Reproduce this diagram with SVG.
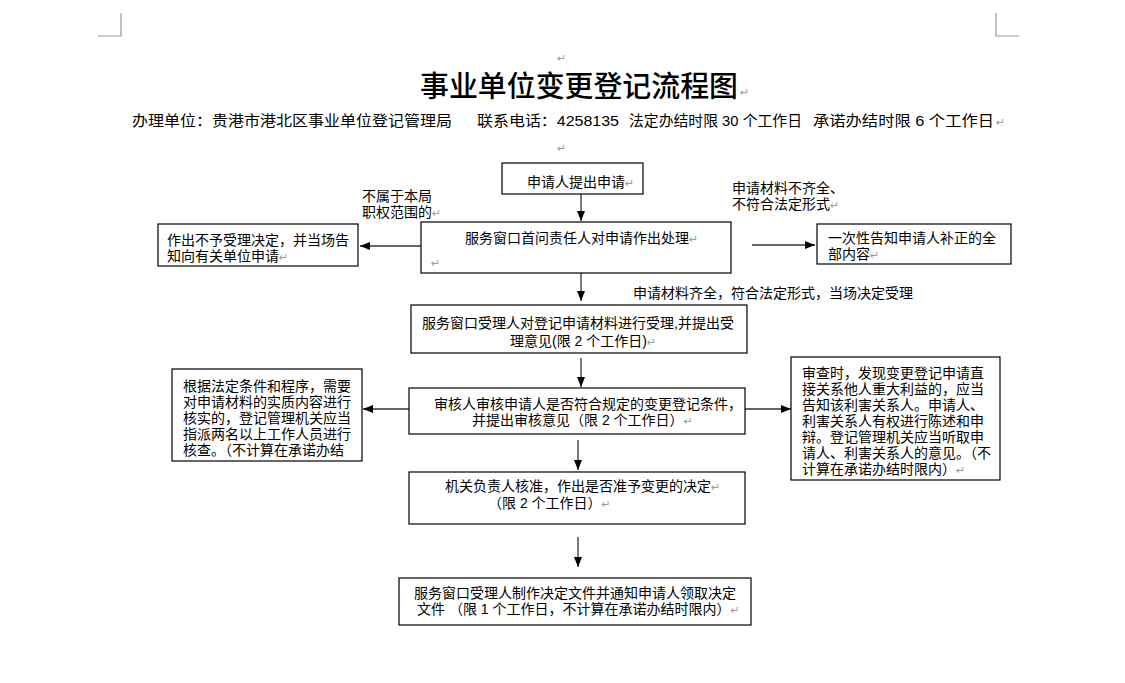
<svg xmlns="http://www.w3.org/2000/svg" width="1125" height="683" viewBox="0 0 1125 683">
<style>
text{font-family:"Liberation Sans","Noto Sans CJK SC",sans-serif;fill:#000;font-size:14px}
.t{font-family:"Noto Sans CJK SC",sans-serif;font-size:29px;font-weight:500}
.s{font-size:15px}
.pm{fill:#9a9a9a;font-size:11px;font-family:"DejaVu Sans",sans-serif}
.box{fill:#fff;stroke:#000;stroke-width:1.2}
.c line{stroke:#333;stroke-width:1.3;fill:none}
.crop{stroke:#999;stroke-width:1.2;fill:none}
</style>
<defs>
<marker id="ah" markerUnits="userSpaceOnUse" markerWidth="10" markerHeight="8" refX="10" refY="4" orient="auto">
<path d="M0,0 L10,4 L0,8 z" fill="#000"/>
</marker>
</defs>
<rect width="1125" height="683" fill="#fff"/>
<polyline class="crop" points="98,36 121,36 121,13"/>
<polyline class="crop" points="1019,36 996,36 996,13"/>
<text class="pm" x="557" y="62">↵</text>
<text class="t" x="420" y="97"><tspan textLength="318" lengthAdjust="spacingAndGlyphs">事业单位变更登记流程图</tspan><tspan class="pm" x="740" y="96">↵</tspan></text>
<text class="s" y="126"><tspan x="132" textLength="320" lengthAdjust="spacingAndGlyphs">办理单位：贵港市港北区事业单位登记管理局</tspan><tspan x="477" textLength="142" lengthAdjust="spacingAndGlyphs">联系电话：4258135</tspan><tspan x="629" textLength="173" lengthAdjust="spacingAndGlyphs">法定办结时限 30 个工作日</tspan><tspan x="813" textLength="181" lengthAdjust="spacingAndGlyphs">承诺办结时限 6 个工作日</tspan><tspan class="pm" x="996">↵</tspan></text>
<text class="pm" x="557" y="152">↵</text>

<g id="connectors" class="c">
<line x1="581" y1="194" x2="581" y2="221" marker-end="url(#ah)"/>
<line x1="421" y1="246" x2="360" y2="246" marker-end="url(#ah)"/>
<line x1="752" y1="245" x2="815" y2="245" marker-end="url(#ah)"/>
<line x1="581" y1="273" x2="581" y2="301" marker-end="url(#ah)"/>
<line x1="581" y1="358" x2="581" y2="387" marker-end="url(#ah)"/>
<line x1="409" y1="409" x2="363" y2="409" marker-end="url(#ah)"/>
<line x1="745" y1="409" x2="791" y2="409" marker-end="url(#ah)"/>
<line x1="578" y1="440" x2="578" y2="470" marker-end="url(#ah)"/>
<line x1="578" y1="537" x2="578" y2="567" marker-end="url(#ah)"/>
</g>

<g id="label-out">
<text><tspan x="362" y="201">不属于本局</tspan><tspan x="362" y="217">职权范围的</tspan><tspan class="pm">↵</tspan></text>
</g>
<g id="label-incomplete">
<text><tspan x="732" y="193">申请材料不齐全、</tspan><tspan x="732" y="209">不符合法定形式</tspan><tspan class="pm">↵</tspan></text>
</g>
<g id="label-accept">
<text x="633" y="298">申请材料齐全，符合法定形式，当场决定受理</text>
</g>

<g id="n1">
<rect class="box" x="502" y="163" width="141" height="31"/>
<text x="527" y="187">申请人提出申请<tspan class="pm">↵</tspan></text>
</g>
<g id="n2">
<rect class="box" x="421" y="222" width="310" height="51"/>
<text><tspan x="465" y="243">服务窗口首问责任人对申请作出处理</tspan><tspan class="pm">↵</tspan><tspan class="pm" x="431" y="267">↵</tspan></text>
</g>
<g id="n-reject">
<rect class="box" x="158" y="224" width="200" height="42"/>
<text><tspan x="167" y="245">作出不予受理决定，并当场告</tspan><tspan x="167" y="261">知向有关单位申请</tspan><tspan class="pm">↵</tspan></text>
</g>
<g id="n-notify">
<rect class="box" x="817" y="224" width="194" height="40"/>
<text><tspan x="828" y="243">一次性告知申请人补正的全</tspan><tspan x="828" y="259">部内容</tspan><tspan class="pm">↵</tspan></text>
</g>
<g id="n3">
<rect class="box" x="411" y="305" width="336" height="48"/>
<text><tspan x="422" y="328">服务窗口受理人对登记申请材料进行受理,并提出受</tspan><tspan x="510" y="346">理意见(限 2 个工作日)</tspan><tspan class="pm">↵</tspan></text>
</g>
<g id="n4">
<rect class="box" x="409" y="388" width="336" height="46"/>
<text><tspan x="434" y="409">审核人审核申请人是否符合规定的变更登记条件，</tspan><tspan x="472" y="425">并提出审核意见（限 2 个工作日）</tspan><tspan class="pm">↵</tspan></text>
</g>
<g id="n-verify">
<rect class="box" x="172" y="369" width="190" height="92"/>
<text><tspan x="183" y="391">根据法定条件和程序，需要</tspan><tspan x="183" y="407">对申请材料的实质内容进行</tspan><tspan x="183" y="423">核实的，登记管理机关应当</tspan><tspan x="183" y="439">指派两名以上工作人员进行</tspan><tspan x="183" y="455">核查。（不计算在承诺办结</tspan></text>
</g>
<g id="n-hearing">
<rect class="box" x="791" y="357" width="209" height="123"/>
<text><tspan x="802" y="378">审查时，发现变更登记申请直</tspan><tspan x="802" y="394">接关系他人重大利益的，应当</tspan><tspan x="802" y="410">告知该利害关系人。申请人、</tspan><tspan x="802" y="426">利害关系人有权进行陈述和申</tspan><tspan x="802" y="442">辩。登记管理机关应当听取申</tspan><tspan x="802" y="458">请人、利害关系人的意见。（不</tspan><tspan x="802" y="474">计算在承诺办结时限内）</tspan><tspan class="pm">↵</tspan></text>
</g>
<g id="n5">
<rect class="box" x="409" y="472" width="336" height="52"/>
<text><tspan x="445" y="491">机关负责人核准，作出是否准予变更的决定</tspan><tspan class="pm">↵</tspan><tspan x="488" y="508">（限 2 个工作日）</tspan><tspan class="pm">↵</tspan></text>
</g>
<g id="n6">
<rect class="box" x="399" y="578" width="352" height="47"/>
<text><tspan x="414" y="598">服务窗口受理人制作决定文件并通知申请人领取决定</tspan><tspan x="417" y="614">文件 （限 1 个工作日，不计算在承诺办结时限内）</tspan><tspan class="pm">↵</tspan></text>
</g>
</svg>
